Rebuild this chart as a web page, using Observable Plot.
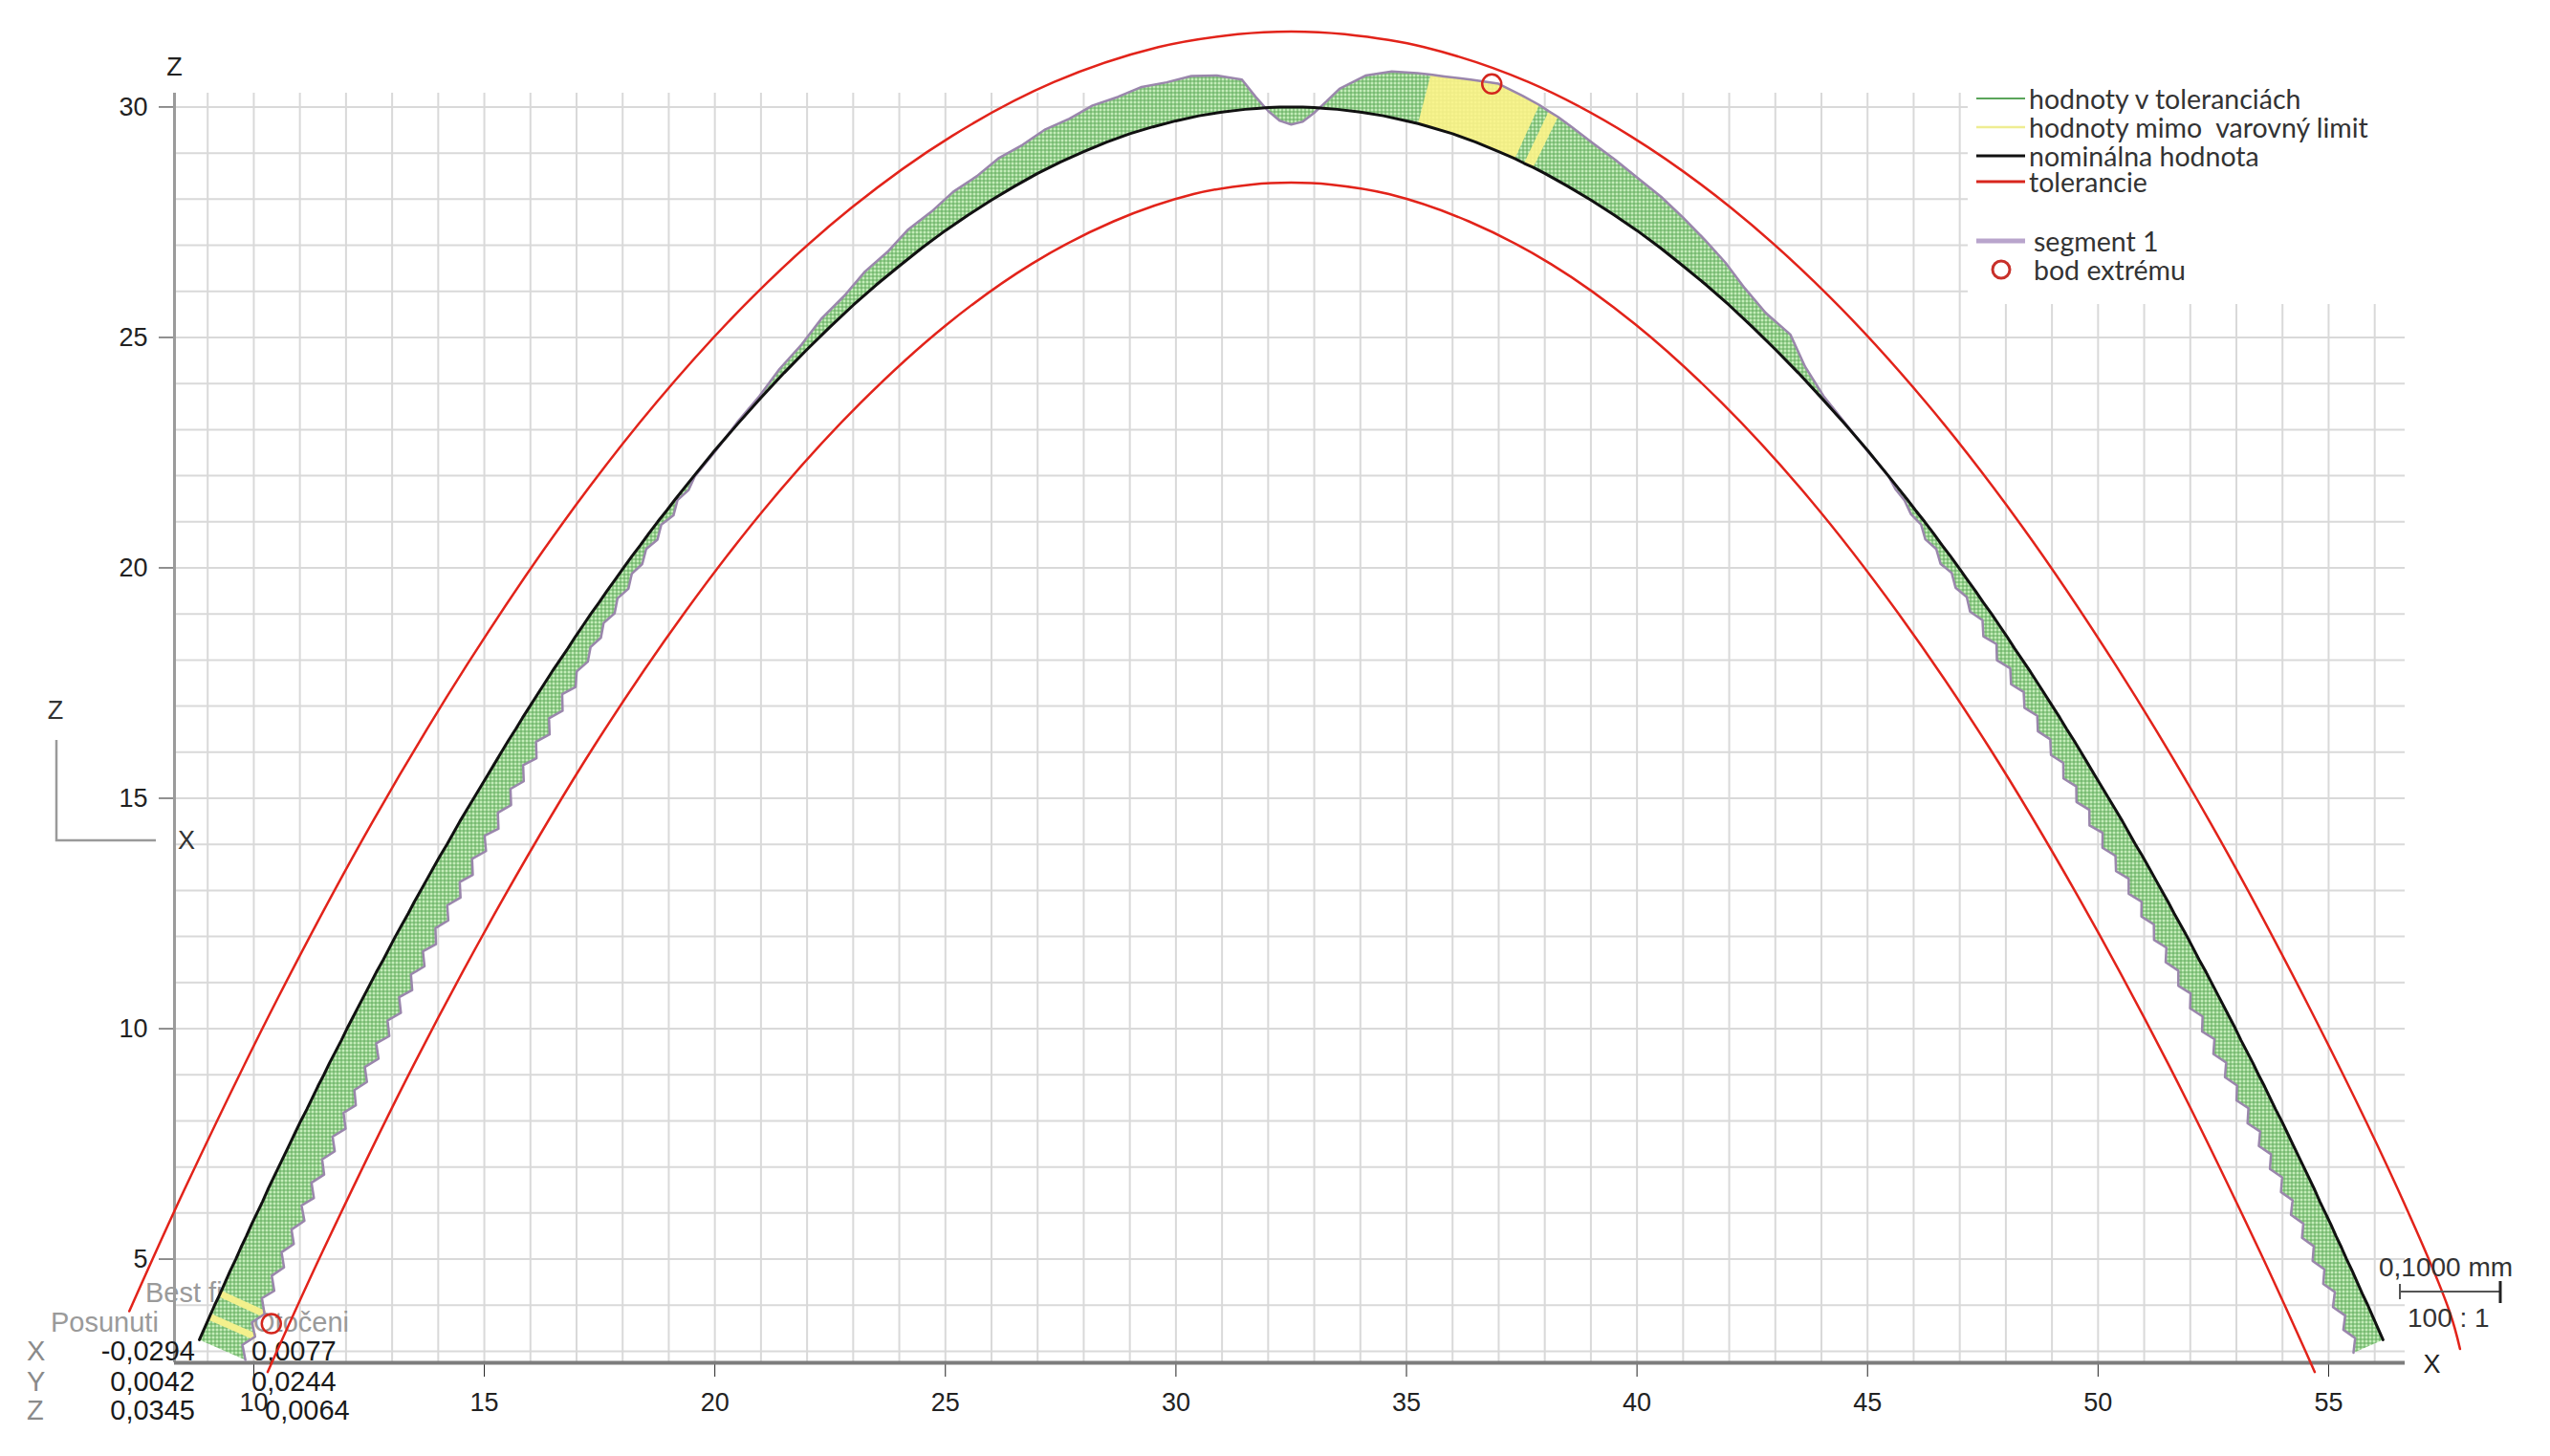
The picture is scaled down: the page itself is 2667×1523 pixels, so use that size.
<!DOCTYPE html>
<html><head><meta charset="utf-8">
<script src="https://cdn.jsdelivr.net/npm/d3@7"></script>
<script src="https://cdn.jsdelivr.net/npm/@observablehq/plot@0.6"></script>
<style>html,body{margin:0;padding:0;background:#fff;overflow:hidden}</style>
</head><body><div id="chart"></div>
<script>
// ---------------- data ----------------
const xDomain = [8.28, 56.66];
const yDomain = [2.75, 30.3];
const xTicks = [10, 15, 20, 25, 30, 35, 40, 45, 50, 55];
const yTicks = [5, 10, 15, 20, 25, 30];
const gridX = d3.range(9, 57);
const gridZ = d3.range(3, 31);

// flank sampling heights (z), shared by both flanks
const flankZ = [3.25,3.5,3.75,4,4.25,4.5,4.75,5,5.25,5.5,5.75,6,6.25,6.5,6.75,7,7.25,7.5,7.75,8,8.25,8.5,8.75,9,9.25,9.5,9.75,10,10.25,10.5,10.75,11,11.25,11.5,11.75,12,12.25,12.5,12.75,13,13.25,13.5,13.75,14,14.25,14.5,14.75,15,15.25,15.5,15.75,16,16.25,16.5,16.75,17,17.25,17.5,17.75,18,18.25,18.5,18.75,19,19.25,19.5,19.75,20,20.25,20.5,20.75,21,21.25,21.5,21.75,22];
// nominal x on the left flank (z ascending)
const leftFlankX = [8.82,8.93,9.04,9.15,9.27,9.38,9.49,9.61,9.72,9.84,9.95,10.07,10.19,10.30,10.42,10.54,10.66,10.78,10.90,11.02,11.15,11.27,11.39,11.52,11.64,11.77,11.90,12.02,12.15,12.28,12.41,12.54,12.67,12.81,12.94,13.07,13.21,13.35,13.48,13.62,13.76,13.90,14.04,14.19,14.33,14.47,14.62,14.77,14.92,15.07,15.22,15.37,15.52,15.68,15.83,15.99,16.15,16.31,16.47,16.64,16.81,16.97,17.14,17.31,17.49,17.66,17.84,18.02,18.20,18.39,18.57,18.76,18.96,19.15,19.35,19.55];
// measured deviation (magnified, outward +) on the left flank
const leftFlankDev = [-1.09,-0.90,-1.08,-0.89,-1.06,-0.87,-1.05,-0.86,-1.03,-0.84,-1.01,-0.83,-1.00,-0.81,-0.98,-0.79,-0.96,-0.78,-0.95,-0.77,-0.94,-0.75,-0.92,-0.74,-0.91,-0.72,-0.90,-0.71,-0.89,-0.70,-0.88,-0.69,-0.87,-0.68,-0.86,-0.68,-0.85,-0.67,-0.84,-0.66,-0.83,-0.65,-0.82,-0.63,-0.81,-0.62,-0.80,-0.61,-0.77,-0.58,-0.74,-0.55,-0.72,-0.52,-0.69,-0.49,-0.65,-0.45,-0.61,-0.44,-0.52,-0.40,-0.47,-0.34,-0.41,-0.28,-0.35,-0.22,-0.28,-0.15,-0.23,-0.10,-0.18,-0.05,-0.10,-0.02];
// top part of the profile
const topX = [20,20.5,21,21.5,22,22.5,23,23.5,24,24.5,25,25.5,26,26.5,27,27.5,28,28.5,29,29.5,30,30.5,31,31.5,31.75,32,32.25,32.5,32.75,33,33.25,33.5,34,34.5,35,35.25,35.5,36,36.5,37,37.35,37.55,37.75,38,38.5,39,39.5,40,40.5,41,41.5,42,42.5,43,43.5,44,44.5,45];
const topZ = [22.55,23.13,23.69,24.23,24.74,25.23,25.70,26.14,26.55,26.95,27.32,27.66,27.98,28.28,28.56,28.81,29.03,29.24,29.42,29.57,29.70,29.81,29.89,29.95,29.97,29.99,30.00,30.00,30.00,29.99,29.97,29.95,29.89,29.81,29.70,29.64,29.57,29.42,29.24,29.03,28.88,28.78,28.69,28.56,28.28,27.98,27.66,27.32,26.95,26.55,26.14,25.70,25.23,24.74,24.23,23.69,23.13,22.55];
const topDev = [-0.02,0.03,0.05,0.13,0.16,0.26,0.28,0.38,0.40,0.50,0.51,0.60,0.61,0.70,0.70,0.78,0.78,0.85,0.84,0.90,0.86,0.88,0.80,0.65,0.25,-0.08,-0.30,-0.38,-0.32,-0.12,0.15,0.45,0.80,0.98,1.06,1.10,1.14,1.24,1.36,1.32,1.28,1.25,1.22,1.17,1.08,1.02,0.95,0.90,0.82,0.74,0.64,0.50,0.42,0.46,0.20,0.06,0.02,-0.01];
// nominal x on the right flank (z descending)
const rightFlankX = [45.45,45.65,45.85,46.04,46.24,46.43,46.61,46.80,46.98,47.16,47.34,47.51,47.69,47.86,48.03,48.19,48.36,48.53,48.69,48.85,49.01,49.17,49.32,49.48,49.63,49.78,49.93,50.08,50.23,50.38,50.53,50.67,50.81,50.96,51.10,51.24,51.38,51.52,51.65,51.79,51.93,52.06,52.19,52.33,52.46,52.59,52.72,52.85,52.98,53.10,53.23,53.36,53.48,53.61,53.73,53.85,53.98,54.10,54.22,54.34,54.46,54.58,54.70,54.81,54.93,55.05,55.16,55.28,55.39,55.51,55.62,55.73,55.85,55.96,56.07,56.18];
const rightFlankDev = [0.00,-0.06,-0.06,-0.13,-0.10,-0.22,-0.15,-0.27,-0.19,-0.31,-0.23,-0.35,-0.24,-0.42,-0.28,-0.46,-0.32,-0.50,-0.36,-0.53,-0.39,-0.56,-0.42,-0.59,-0.45,-0.62,-0.47,-0.64,-0.49,-0.66,-0.50,-0.66,-0.50,-0.66,-0.50,-0.66,-0.50,-0.66,-0.50,-0.66,-0.51,-0.67,-0.51,-0.67,-0.51,-0.67,-0.51,-0.67,-0.51,-0.67,-0.51,-0.68,-0.52,-0.68,-0.52,-0.68,-0.52,-0.68,-0.52,-0.68,-0.52,-0.68,-0.53,-0.69,-0.53,-0.69,-0.53,-0.69,-0.53,-0.69,-0.53,-0.70,-0.54,-0.70,-0.54,-0.70];

// tolerance limits
const tolUpperX = [7.30,8.51,10.54,12.57,14.62,16.67,18.74,20.84,22.97,25.14,27.35,29.62,31.34,32.5,33.66,35.38,37.65,39.86,42.03,44.16,46.26,48.33,50.38,52.43,54.46,56.49,57.62,57.85];
const tolUpperZ = [3.87,6.54,10.70,14.48,17.89,20.93,23.60,25.90,27.82,29.37,30.54,31.30,31.58,31.64,31.58,31.30,30.54,29.37,27.82,25.90,23.60,20.93,17.89,14.48,10.70,6.54,3.87,3.05];
const tolLowerX = [10.30,11.49,13.46,15.43,17.38,19.33,21.26,23.16,25.03,26.86,28.65,30.38,31.66,32.5,33.34,34.62,36.35,38.14,39.97,41.84,43.74,45.67,47.62,49.57,51.54,53.51,54.70];
const tolLowerZ = [2.55,5.16,9.20,12.86,16.13,19.01,21.50,23.58,25.28,26.59,27.52,28.11,28.32,28.36,28.32,28.11,27.52,26.59,25.28,23.58,21.50,19.01,16.13,12.86,9.20,5.16,2.55];

// warning-limit zones (nominal x spans on top) and stripes (nominal z on left flank)
const yellowSpansX = [[35.25, 37.35], [37.55, 37.75]];
const yellowStripeZ = [3.75, 4.25];

// extreme points
const extremeX = [36.85, 10.38];
const extremeZ = [30.5, 3.6];

// texts
const legendLabels = ["hodnoty v toleranciách", "hodnoty mimo  varovný limit", "nominálna hodnota", "tolerancie", "segment 1", "bod extrému"];
const tableRowLabels = ["X", "Y", "Z"];
const shiftValues = ["-0,0294", "0,0042", "0,0345"];
const rotationValues = ["0,0077", "0,0244", "0,0064"];
const scaleLabel = "0,1000 mm";
const ratioLabel = "100 : 1";

// ---------------- build tables ----------------
const nominal = [];
flankZ.forEach((z, i) => nominal.push({x: leftFlankX[i], z, dev: leftFlankDev[i], part: "L"}));
topX.forEach((x, i) => nominal.push({x, z: topZ[i], dev: topDev[i], part: "T"}));
flankZ.slice().reverse().forEach((z, i) => nominal.push({x: rightFlankX[i], z, dev: rightFlankDev[i], part: "R"}));
nominal.forEach((p, i) => {
  const a = nominal[Math.max(0, i - 1)], b = nominal[Math.min(nominal.length - 1, i + 1)];
  const tx = b.x - a.x, tz = b.z - a.z, L = Math.hypot(tx, tz);
  p.nx = -tz / L; p.nz = tx / L;
  p.mx = p.x + p.dev * p.nx; p.mz = p.z + p.dev * p.nz;
});
const measured = nominal.map(p => ({x: p.mx, z: p.mz}));
const greenPoly = measured.concat(nominal.slice().reverse().map(p => ({x: p.x, z: p.z})));
const yellowPolys = [];
yellowSpansX.forEach(([a, b], k) => {
  const sel = nominal.filter(p => p.part === "T" && p.x >= a - 1e-9 && p.x <= b + 1e-9);
  sel.forEach(p => yellowPolys.push({x: p.mx, z: p.mz, k}));
  sel.slice().reverse().forEach(p => yellowPolys.push({x: p.x, z: p.z, k}));
});
const stripes = nominal.filter(p => p.part === "L" && yellowStripeZ.includes(p.z));
const tolUpper = tolUpperX.map((x, i) => ({x, z: tolUpperZ[i]}));
const tolLower = tolLowerX.map((x, i) => ({x, z: tolLowerZ[i]}));
const extremes = extremeX.map((x, i) => ({x, z: extremeZ[i]}));

// ---------------- helper marks ----------------
function defsMark() {
  const g = d3.create("svg:g");
  const defs = g.append("defs");
  const p = defs.append("pattern").attr("id", "hatchG").attr("patternUnits", "userSpaceOnUse").attr("width", 4).attr("height", 4);
  p.append("rect").attr("width", 4).attr("height", 4).attr("fill", "#c4ecb9");
  p.append("path").attr("d", "M0.5,0V4M0,0.5H4").attr("stroke", "#5fab5a").attr("stroke-width", 1);
  const y = defs.append("pattern").attr("id", "hatchY").attr("patternUnits", "userSpaceOnUse").attr("width", 4).attr("height", 4);
  y.append("rect").attr("width", 4).attr("height", 4).attr("fill", "#f7f48e");
  y.append("path").attr("d", "M0.5,0V4M0,0.5H4").attr("stroke", "#ecea84").attr("stroke-width", 1);
  return g.node();
}
function tableMark() {
  const g = d3.create("svg:g").attr("font-family", "'Liberation Sans', Arial, sans-serif").attr("font-size", 29)
    .attr("text-anchor", "start").attr("dominant-baseline", "central");
  g.append("text").attr("x", 152).attr("y", 1352).attr("fill", "#9a9a9a").text("Best fit");
  g.append("text").attr("x", 53).attr("y", 1383).attr("fill", "#9a9a9a").text("Posunuti");
  g.append("text").attr("x", 365).attr("y", 1383).attr("text-anchor", "end").attr("fill", "#9a9a9a").text("Otočeni");
  const rowY = [1413, 1445, 1475];
  tableRowLabels.forEach((t, i) => g.append("text").attr("x", 28).attr("y", rowY[i]).attr("fill", "#8a8a8a").text(t));
  shiftValues.forEach((t, i) => g.append("text").attr("x", 204).attr("y", rowY[i]).attr("text-anchor", "end").attr("fill", "#1a1a1a").text(t));
  const rx = [263, 263, 277];
  rotationValues.forEach((t, i) => g.append("text").attr("x", rx[i]).attr("y", rowY[i]).attr("fill", "#1a1a1a").text(t));
  return g.node();
}

// ---------------- plot ----------------
const plot = Plot.plot({
  width: 2667, height: 1523,
  marginLeft: 182, marginRight: 152, marginTop: 97, marginBottom: 98,
  style: {background: "#fff", fontFamily: "'Liberation Sans', Arial, sans-serif", fontSize: "27px", color: "#222"},
  x: {domain: xDomain, ticks: xTicks, tickSize: 15, tickPadding: 16, label: null, tickFormat: d => String(d)},
  y: {domain: yDomain, ticks: yTicks, tickSize: 16, tickPadding: 12, label: null, tickFormat: d => String(d)},
  marks: [
    Plot.ruleX(gridX, {stroke: "#d9d9d9", strokeWidth: 2}),
    Plot.ruleY(gridZ, {stroke: "#d9d9d9", strokeWidth: 2}),
    Plot.ruleX([xDomain[0]], {stroke: "#9b9b9b", strokeWidth: 3}),
    Plot.ruleY([yDomain[0]], {stroke: "#7d7d7d", strokeWidth: 4}),
    defsMark,
    tableMark,
    Plot.line(greenPoly, {x: "x", y: "z", fill: "url(#hatchG)", stroke: "none"}),
    Plot.line(yellowPolys, {x: "x", y: "z", z: "k", fill: "url(#hatchY)", stroke: "none"}),
    Plot.link(stripes, {x1: "x", y1: "z", x2: "mx", y2: "mz", stroke: "#f3f08c", strokeWidth: 7}),
    Plot.line(measured, {x: "x", y: "z", stroke: "#9a86ac", strokeWidth: 2.5}),
    Plot.line(nominal, {x: "x", y: "z", stroke: "#111", strokeWidth: 3}),
    Plot.line(tolUpper, {x: "x", y: "z", curve: "catmull-rom", stroke: "#e2231a", strokeWidth: 2.5}),
    Plot.line(tolLower, {x: "x", y: "z", curve: "catmull-rom", stroke: "#e2231a", strokeWidth: 2.5}),
    Plot.dot(extremes, {x: "x", y: "z", r: 10, stroke: "#d3261d", strokeWidth: 2.5, fill: "none"}),
    Plot.text(["Z"], {frameAnchor: "top-left", textAnchor: "middle", lineAnchor: "middle", dy: -27, text: d => d, fill: "#222", fontSize: 27}),
    Plot.text(["X"], {frameAnchor: "bottom-right", textAnchor: "middle", lineAnchor: "middle", dx: 28, dy: 2, text: d => d, fill: "#222", fontSize: 27})
  ]
});
document.getElementById("chart").appendChild(plot);

// ---------------- decorations ----------------
const svg = d3.select(plot);
// legend
const lg = svg.append("g").attr("font-family", "Lato, 'Open Sans', sans-serif").attr("font-size", 28.5)
  .attr("fill", "#333").attr("text-anchor", "start");
lg.append("rect").attr("x", 2058).attr("y", 84).attr("width", 609).attr("height", 234).attr("fill", "#fff");
const legRowY = [103, 133, 163, 190, 252, 282];
const legStroke = [["#5aa55a", 2], ["#efed92", 2.5], ["#111", 3], ["#d8261d", 3], ["#b9a5cc", 5]];
legStroke.forEach(([c, w], i) => lg.append("line").attr("x1", 2067).attr("x2", 2118).attr("y1", legRowY[i]).attr("y2", legRowY[i]).attr("stroke", c).attr("stroke-width", w));
lg.append("circle").attr("cx", 2093).attr("cy", legRowY[5]).attr("r", 9).attr("fill", "none").attr("stroke", "#c8302a").attr("stroke-width", 3);
legendLabels.forEach((t, i) => lg.append("text").attr("x", i < 4 ? 2122 : 2127).attr("y", legRowY[i])
  .attr("text-anchor", "start").attr("dominant-baseline", "central").style("white-space", "pre").text(t));

// orientation indicator
const ind = svg.append("g").attr("font-family", "'Liberation Sans', Arial, sans-serif").attr("font-size", 27).attr("fill", "#333");
ind.append("path").attr("d", "M59,774V879H163").attr("fill", "none").attr("stroke", "#9a9a9a").attr("stroke-width", 2.5);
ind.append("text").attr("x", 58).attr("y", 743).attr("text-anchor", "middle").attr("dominant-baseline", "central").text("Z");
ind.append("text").attr("x", 195).attr("y", 879).attr("text-anchor", "middle").attr("dominant-baseline", "central").text("X");

// scale bar
const sb = svg.append("g").attr("font-family", "'Liberation Sans', Arial, sans-serif").attr("font-size", 28)
  .attr("fill", "#333").attr("text-anchor", "start");
sb.append("text").attr("x", 2488).attr("y", 1325).attr("text-anchor", "start").attr("dominant-baseline", "central").text(scaleLabel);
sb.append("path").attr("d", "M2510,1351H2615M2510,1343V1359").attr("stroke", "#555").attr("stroke-width", 2);
sb.append("path").attr("d", "M2615,1340V1363").attr("stroke", "#222").attr("stroke-width", 3);
sb.append("text").attr("x", 2518).attr("y", 1378).attr("text-anchor", "start").attr("dominant-baseline", "central").text(ratioLabel);
</script></body></html>
